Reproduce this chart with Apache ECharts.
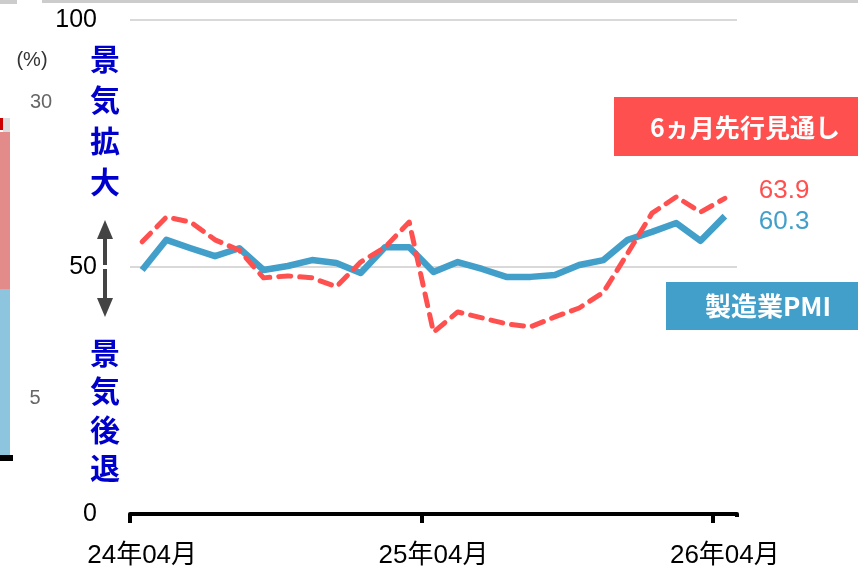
<!DOCTYPE html>
<html>
<head>
<meta charset="utf-8">
<script src="https://cdn.jsdelivr.net/npm/echarts@6/dist/echarts.min.js"></script>
<style>
  html, body { margin: 0; padding: 0; background: #fff; }
  #chart { width: 858px; height: 569px; }
</style>
</head>
<body>
<div id="chart"></div>
<script>
const months = [
  "24年04月", "24年05月", "24年06月", "24年07月", "24年08月", "24年09月",
  "24年10月", "24年11月", "24年12月", "25年01月", "25年02月", "25年03月",
  "25年04月", "25年05月", "25年06月", "25年07月", "25年08月", "25年09月",
  "25年10月", "25年11月", "25年12月", "26年01月", "26年02月", "26年03月",
  "26年04月"
]
const pmi = [
  49.4, 55.5, 53.8, 52.2, 53.8, 49.4, 50.2, 51.4, 50.8, 48.8, 54.0, 54.0,
  49.0, 51.0, 49.6, 48.0, 48.0, 48.4, 50.4, 51.4, 55.5, 57.1, 58.9, 55.3, 60.3
]
const outlook = [
  55.1, 60.1, 59.1, 55.5, 53.4, 47.8, 48.2, 47.8, 46.0, 51.0, 54.0, 59.1,
  36.8, 40.9, 39.7, 38.5, 37.9, 39.9, 41.7, 44.9, 52.8, 60.9, 64.2, 61.1, 63.9
]
const yTicks = [0, 50, 100]

const BLUE = "#429fca"
const RED = "#ff5050"
const NUM_FONT = "'Liberation Sans', 'Noto Sans CJK JP', sans-serif"
const JP_FONT = "'Noto Sans CJK JP', 'Liberation Sans', sans-serif"

const chart = echarts.init(document.getElementById("chart"), null, { renderer: "canvas" })

chart.setOption({
  animation: false,
  grid: { left: 130, right: 121, top: 20, bottom: 55 },
  xAxis: {
    type: "category",
    data: months,
    boundaryGap: true,
    axisLine: { lineStyle: { color: "#000", width: 4 } },
    axisTick: { show: true, interval: 11, length: 9, lineStyle: { color: "#000", width: 4 } },
    axisLabel: { interval: 11, color: "#000", fontSize: 26, fontFamily: NUM_FONT, margin: 29 }
  },
  yAxis: {
    type: "value",
    min: yTicks[0],
    max: yTicks[yTicks.length - 1],
    interval: 50,
    axisLine: { show: false },
    axisTick: { show: false },
    axisLabel: { color: "#000", fontSize: 25, fontFamily: NUM_FONT, margin: 33 },
    splitLine: { lineStyle: { color: "#d9d9d9", width: 2 } }
  },
  series: [
    {
      name: "製造業PMI",
      type: "line",
      data: pmi,
      symbol: "none",
      lineStyle: { color: BLUE, width: 6.5, join: "round" },
      endLabel: {
        show: true,
        formatter: (p) => p.value.toFixed(1),
        color: BLUE,
        fontSize: 26,
        fontFamily: NUM_FONT,
        offset: [26, 6]
      },
      z: 2
    },
    {
      name: "6ヵ月先行見通し",
      type: "line",
      data: outlook,
      symbol: "none",
      lineStyle: { color: RED, width: 5, type: [12, 9], cap: "round", join: "round" },
      endLabel: {
        show: true,
        formatter: (p) => p.value.toFixed(1),
        color: RED,
        fontSize: 26,
        fontFamily: NUM_FONT,
        offset: [26, -8]
      },
      z: 3
    }
  ],
  graphic: [
    // top border
    { type: "rect", shape: { x: 42, y: 0, width: 816, height: 3 }, style: { fill: "#cccccc" } },
    { type: "rect", shape: { x: 0, y: 0, width: 17, height: 4 }, style: { fill: "#cccccc" } },

    // hide the closing band tick at the axis end (reference has none there)
    { type: "rect", shape: { x: 732, y: 517, width: 10, height: 12 }, style: { fill: "#fff" }, z: 100 },

    // cropped neighbour panel on the left
    { type: "rect", shape: { x: 3, y: 118, width: 7, height: 14 }, style: { fill: "#dddddd" } },
    { type: "rect", shape: { x: 0, y: 118, width: 3, height: 12 }, style: { fill: "#cc0000" } },
    { type: "rect", shape: { x: 0, y: 132, width: 10, height: 157 }, style: { fill: "#e38a8a" } },
    { type: "rect", shape: { x: 0, y: 289, width: 10, height: 166 }, style: { fill: "#8dc5de" } },
    { type: "rect", shape: { x: 0, y: 455, width: 13, height: 6 }, style: { fill: "#000" } },
    { type: "text", x: 32, y: 60, style: { text: "(%)", fill: "#333", fontSize: 20, fontFamily: NUM_FONT, align: "center", verticalAlign: "middle" } },
    { type: "text", x: 41, y: 102, style: { text: "30", fill: "#666", fontSize: 20, fontFamily: NUM_FONT, align: "center", verticalAlign: "middle" } },
    { type: "text", x: 35, y: 398, style: { text: "5", fill: "#666", fontSize: 20, fontFamily: NUM_FONT, align: "center", verticalAlign: "middle" } },

    // vertical captions
    { type: "text", x: 105, y: 38, style: { text: "景\n気\n拡\n大", fill: "#0000cc", fontSize: 30, fontWeight: "bold", fontFamily: JP_FONT, align: "center", verticalAlign: "top", lineHeight: 41 } },
    { type: "text", x: 105, y: 333, style: { text: "景\n気\n後\n退", fill: "#0000cc", fontSize: 30, fontWeight: "bold", fontFamily: JP_FONT, align: "center", verticalAlign: "top", lineHeight: 38.5 } },

    // double arrow
    { type: "polygon", shape: { points: [[105, 220], [97, 239], [113, 239]] }, style: { fill: "#444" } },
    { type: "rect", shape: { x: 103, y: 237, width: 4, height: 28 }, style: { fill: "#444" } },
    { type: "rect", shape: { x: 103, y: 269, width: 4, height: 31 }, style: { fill: "#444" } },
    { type: "polygon", shape: { points: [[105, 317], [97, 298], [113, 298]] }, style: { fill: "#444" } },

    // legend boxes
    { type: "rect", shape: { x: 614, y: 97, width: 244, height: 59 }, style: { fill: RED } },
    { type: "text", x: 745, y: 127, style: { text: "6ヵ月先行見通し", fill: "#fff", fontSize: 25, fontWeight: "bold", fontFamily: JP_FONT, align: "center", verticalAlign: "middle" } },
    { type: "rect", shape: { x: 666, y: 282, width: 192, height: 48 }, style: { fill: BLUE } },
    { type: "text", x: 768, y: 306, style: { text: "製造業PMI", fill: "#fff", fontSize: 26, fontWeight: "bold", fontFamily: JP_FONT, align: "center", verticalAlign: "middle" } }
  ]
})
</script>
</body>
</html>
